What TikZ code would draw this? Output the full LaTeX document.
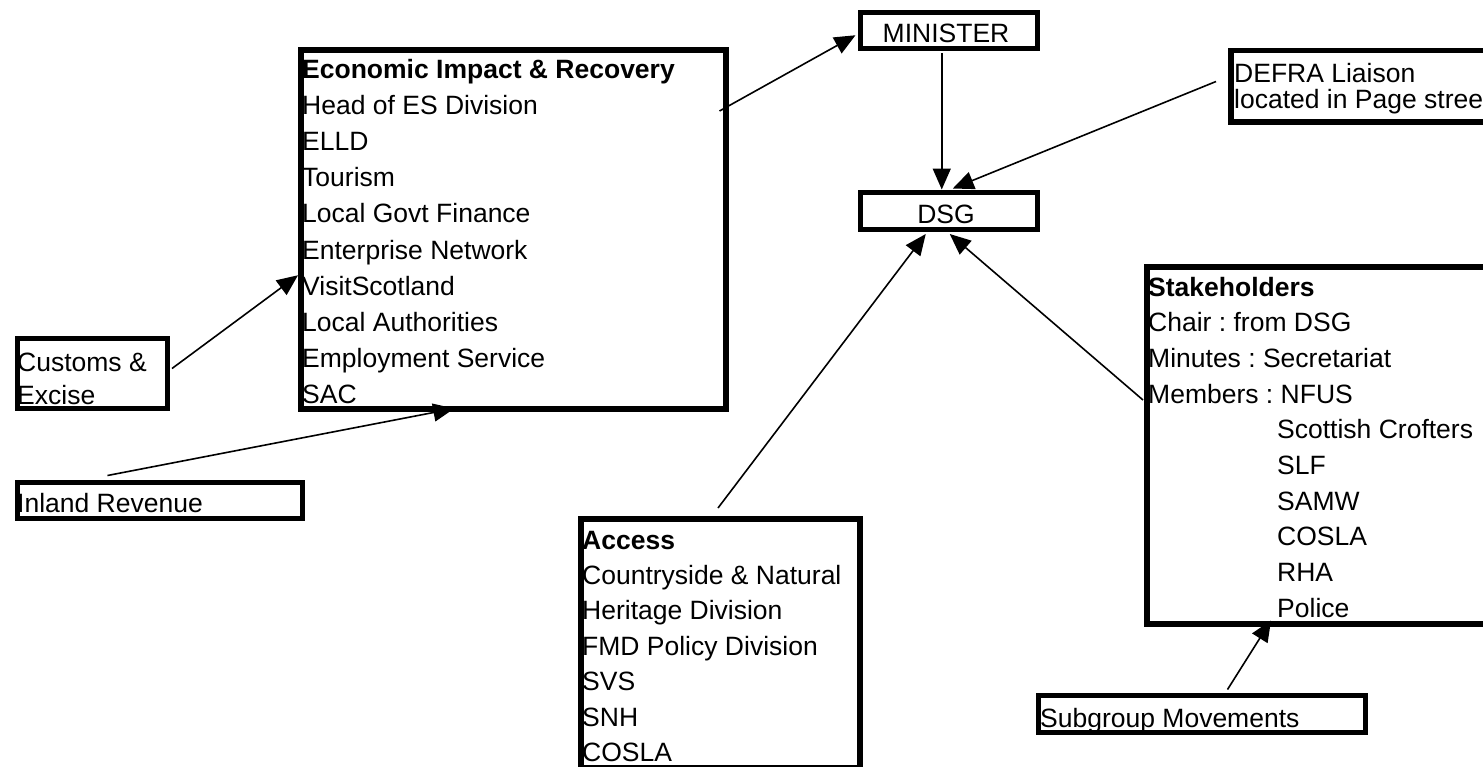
\documentclass[tikz,border=0pt]{standalone}
\usepackage{fontspec}
\setmainfont{Liberation Sans}
\usetikzlibrary{arrows.meta}
\frenchspacing
\tikzset{
  box/.style={draw, line width=5.5pt, rectangle, inner sep=0pt, anchor=north west},
  txt/.style={inner sep=0pt, font=\fontsize{26.5}{35.7}\selectfont},
  conn/.style={line width=1.6pt, -{Triangle[length=21pt,width=18pt]}},
}
\newcommand{\lines}[2]{\parbox[t]{460pt}{\raggedright\baselineskip=#1pt #2}}
\begin{document}
\begin{tikzpicture}[x=1pt,y=-1pt]
\useasboundingbox (0,0) rectangle (1483,766);
\clip (0,0) rectangle (1483,766);
% texts
\node[txt, anchor=base west] (ecoT) at (302,78) {\lines{36.2}{\textbf{Economic Impact \& Recovery}\\Head of ES Division\\ELLD\\Tourism\\Local Govt Finance\\Enterprise Network\\VisitScotland\\Local Authorities\\Employment Service\\SAC}};
\node[txt, anchor=base] (minT) at (946,42) {MINISTER};
\node[txt, anchor=base] (dsgT) at (946,223) {DSG};
\node[txt, anchor=base west] (defraT) at (1234,82) {\lines{26.5}{DEFRA Liaison\\located in Page street}};
\node[txt, anchor=base west] (stakeT) at (1148,296) {\lines{35.7}{\textbf{Stakeholders}\\Chair : from DSG\\Minutes : Secretariat\\Members : NFUS\\\hspace*{129pt}Scottish Crofters\\\hspace*{129pt}SLF\\\hspace*{129pt}SAMW\\\hspace*{129pt}COSLA\\\hspace*{129pt}RHA\\\hspace*{129pt}Police}};
\node[txt, anchor=base west] (accessT) at (582,549) {\lines{35.4}{\textbf{Access}\\Countryside \& Natural\\Heritage Division\\FMD Policy Division\\SVS\\SNH\\COSLA}};
\node[txt, anchor=base west] (customsT) at (17,371) {\lines{33}{Customs \&\\Excise}};
\node[txt, anchor=base west] (inlandT) at (17,512) {Inland Revenue};
\node[txt, anchor=base west] (subT) at (1040,727) {Subgroup Movements};
% boxes
\node[box, minimum width=425pt, minimum height=359pt] (eco) at (298,47) {};
\node[box, minimum width=177pt, minimum height=36pt] (min) at (857.5,9.5) {};
\node[box, minimum width=177pt, minimum height=37pt] (dsg) at (857.5,189.5) {};
\node[box, minimum width=372pt, minimum height=71.5pt] (defra) at (1228,47.5) {};
\node[box, minimum width=456pt, minimum height=357pt] (stake) at (1144,264) {};
\node[box, minimum width=279pt, minimum height=249pt] (access) at (578,516) {};
\node[box, minimum width=150pt, minimum height=70pt] (customs) at (14.5,335.5) {};
\node[box, minimum width=285pt, minimum height=36pt] (inland) at (14.5,479.5) {};
\node[box, minimum width=327pt, minimum height=37pt] (sub) at (1035.5,692.5) {};
% connectors
\draw[conn] ([shift={(-9,64)}]eco.north east) -- ([shift={(-2,5)}]min.west);
\draw[conn] ([shift={(-7,2)}]min.south) -- ([shift={(-7,0)}]dsg.north);
\draw[conn] ([shift={(-12,34)}]defra.north west) -- ([shift={(4,-1)}]dsg.north);
\draw[conn] ([shift={(140,-8)}]access.north west) -- ([shift={(-23,2)}]dsg.south);
\draw[conn] ([shift={(-1,136)}]stake.north west) -- ([shift={(1,2)}]dsg.south);
\draw[conn] ([shift={(2,33)}]customs.north east) -- ([shift={(0,46)}]eco.west);
\draw[conn] ([shift={(93,-4)}]inland.north west) -- ([shift={(-59,-3)}]eco.south);
\draw[conn] ([shift={(192,-3)}]sub.north west) -- ([shift={(127,-6)}]stake.south west);
\end{tikzpicture}
\end{document}
